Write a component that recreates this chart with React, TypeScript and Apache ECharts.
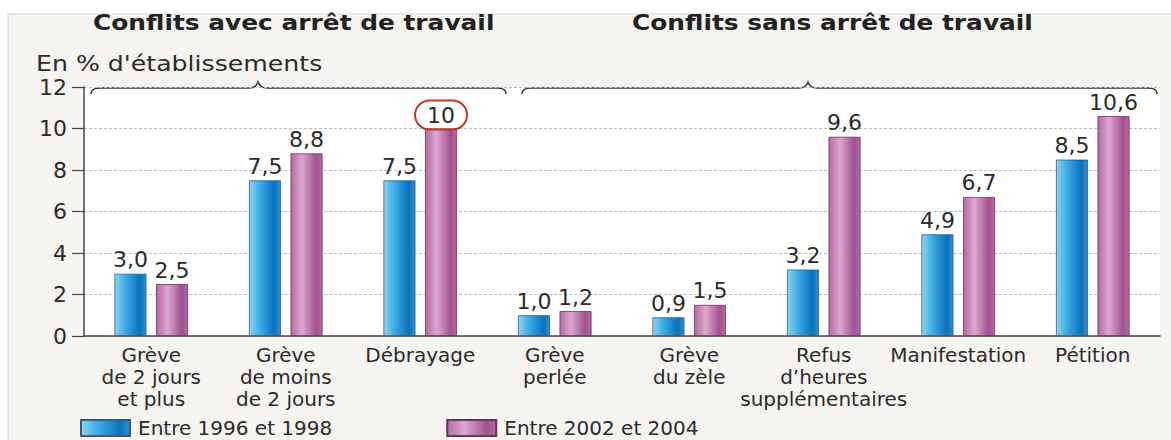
import React, { useEffect, useRef } from "react";
import * as echarts from "echarts";

const categories = [
  "Grève\nde 2 jours\net plus",
  "Grève\nde moins\nde 2 jours",
  "Débrayage",
  "Grève\nperlée",
  "Grève\ndu zèle",
  "Refus\nd’heures\nsupplémentaires",
  "Manifestation",
  "Pétition",
];
const series1996 = [3.0, 7.5, 7.5, 1.0, 0.9, 3.2, 4.9, 8.5];
const series2002 = [2.5, 8.8, 10, 1.2, 1.5, 9.6, 6.7, 10.6];
const seriesNames = ["Entre 1996 et 1998", "Entre 2002 et 2004"];
const groupTitles = ["Conflits avec arrêt de travail", "Conflits sans arrêt de travail"];
const unitLabel = "En % d'établissements";
const highlightedIndex = 2; // circled value in the 2002-2004 series

const FONT = "DejaVu Sans, Verdana, sans-serif";

const fmt = (v: number) =>
  v >= 10 && Number.isInteger(v) ? String(v) : v.toFixed(1).replace(".", ",");

echarts.graphic.registerShape(
  "brace",
  echarts.graphic.extendShape({
    shape: { x1: 0, x2: 0, xm: 0, y: 0, h: 6, r: 10 },
    buildPath(ctx: any, s: any) {
      const { x1, x2, xm, y, h, r } = s;
      ctx.moveTo(x1, y + h);
      ctx.quadraticCurveTo(x1, y, x1 + r, y);
      ctx.lineTo(xm - r, y);
      ctx.quadraticCurveTo(xm - 2, y, xm, y - h);
      ctx.quadraticCurveTo(xm + 2, y, xm + r, y);
      ctx.lineTo(x2 - r, y);
      ctx.quadraticCurveTo(x2, y, x2, y + h);
    },
  }) as any
);

export default function App() {
  const ref = useRef<HTMLDivElement>(null);
  useEffect(() => {
    if (!ref.current) return;
    const chart = echarts.init(ref.current, null, { renderer: "svg" });
    const blue = new echarts.graphic.LinearGradient(0, 0, 1, 0, [
      { offset: 0, color: "#8bd6f4" },
      { offset: 0.35, color: "#3aaae3" },
      { offset: 0.8, color: "#0a72bb" },
      { offset: 1, color: "#2e90d0" },
    ]);
    const purple = new echarts.graphic.LinearGradient(0, 0, 1, 0, [
      { offset: 0, color: "#b8689f" },
      { offset: 0.35, color: "#dba8cf" },
      { offset: 0.8, color: "#a2528e" },
      { offset: 1, color: "#b46ba1" },
    ]);
    const labelStyle = {
      show: true,
      position: "top" as const,
      distance: 3,
      fontFamily: FONT,
      fontSize: 22,
      color: "#2b2b2b",
      formatter: (p: any) => fmt(p.value),
    };
    chart.setOption({
      animation: false,
      backgroundColor: "#ffffff",
      textStyle: { fontFamily: FONT },
      graphic: [
        {
          type: "rect",
          z: -10,
          silent: true,
          shape: { x: 8, y: 14, width: 1170, height: 440 },
          style: { fill: "#f6f5f1", stroke: "#d4d4d0", lineWidth: 1 },
        },
        {
          type: "text",
          x: 93,
          y: 23,
          scaleX: 1.13,
          style: {
            text: groupTitles[0],
            font: `bold 22px ${FONT}`,
            fill: "#222",
            verticalAlign: "middle",
          },
        },
        {
          type: "text",
          x: 632,
          y: 23,
          scaleX: 1.13,
          style: {
            text: groupTitles[1],
            font: `bold 22px ${FONT}`,
            fill: "#222",
            verticalAlign: "middle",
          },
        },
        {
          type: "text",
          x: 36,
          y: 63,
          scaleX: 1.2,
          style: {
            text: unitLabel,
            font: `21px ${FONT}`,
            fill: "#2b2b2b",
            verticalAlign: "middle",
          },
        },
        {
          type: "brace",
          shape: { x1: 91, x2: 506, xm: 258, y: 88, h: 6, r: 9 },
          style: { stroke: "#333", lineWidth: 1.4, fill: "none" },
        },
        {
          type: "brace",
          shape: { x1: 522, x2: 1157, xm: 808, y: 88, h: 6, r: 9 },
          style: { stroke: "#333", lineWidth: 1.4, fill: "none" },
        },
      ],
      grid: {
        left: 84,
        right: 11,
        top: 87,
        bottom: 104,
        show: true,
        backgroundColor: "#ffffff",
        borderWidth: 0,
      },
      legend: {
        left: 80,
        top: 418,
        padding: 0,
        itemWidth: 49,
        itemHeight: 16,
        itemGap: 114,
        icon: "rect",
        textStyle: {
          fontFamily: FONT,
          fontSize: 20,
          lineHeight: 18,
          color: "#2b2b2b",
          padding: [0, 0, 0, 3],
        },
        data: seriesNames,
      },
      xAxis: {
        type: "category",
        data: categories,
        axisLine: { lineStyle: { color: "#444", width: 1.5 } },
        axisTick: { show: false },
        axisLabel: {
          interval: 0,
          fontFamily: FONT,
          fontSize: 20,
          lineHeight: 22,
          color: "#2b2b2b",
          margin: 8,
        },
      },
      yAxis: {
        type: "value",
        min: 0,
        max: 12,
        interval: 2,
        axisLine: { show: true, lineStyle: { color: "#444", width: 1.5 } },
        axisTick: { show: true, length: 12, lineStyle: { color: "#444", width: 1.2 } },
        axisLabel: { fontFamily: FONT, fontSize: 22, color: "#2b2b2b", margin: 17 },
        splitLine: { lineStyle: { color: "#bdbdbd", type: [3, 2], width: 1 } },
      },
      series: [
        {
          name: seriesNames[0],
          type: "bar",
          barWidth: 32,
          barGap: "30%",
          data: series1996,
          itemStyle: { color: blue, borderColor: "#3a5a75", borderWidth: 0.8 },
          label: labelStyle,
        },
        {
          name: seriesNames[1],
          type: "bar",
          barWidth: 32,
          data: series2002.map((v, i) =>
            i === highlightedIndex
              ? {
                  value: v,
                  label: {
                    ...labelStyle,
                    borderColor: "#c0392b",
                    borderWidth: 2,
                    borderRadius: 17,
                    padding: [4, 12, 3, 12],
                    distance: -1,
                  },
                }
              : v
          ),
          itemStyle: { color: purple, borderColor: "#5e3a58", borderWidth: 0.8 },
          label: labelStyle,
        },
      ],
    });
    return () => chart.dispose();
  }, []);
  return (
    <div
      ref={ref}
      style={{ position: "fixed", left: 0, top: 0, width: 1171, height: 440 }}
    />
  );
}
